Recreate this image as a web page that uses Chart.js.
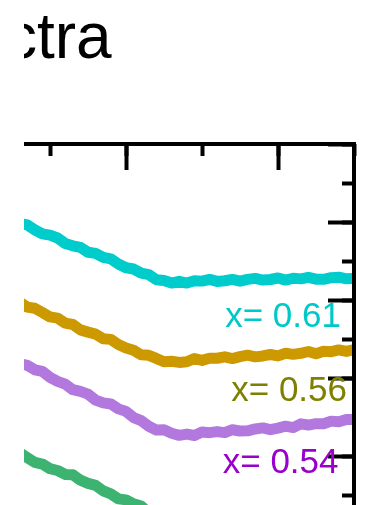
<!DOCTYPE html>
<html>
<head>
<meta charset="utf-8">
<title>Spectra</title>
<script src="https://cdn.jsdelivr.net/npm/chart.js@4.4.1/dist/chart.umd.min.js"></script>
<style>
  html, body { margin: 0; padding: 0; background: #fff; overflow: hidden; }
  /* the reference only shows the part of the figure right of x=24 */
  #clip { position: absolute; left: 24px; top: 0; width: 342px; height: 505px; overflow: hidden; }
  #box { position: absolute; left: -133px; top: 0; width: 473px; height: 544px; }
</style>
</head>
<body>
<div id="clip"><div id="box"><canvas id="spectraChart"></canvas></div></div>
<script>
// --- Data ---
const energy = [430, 435, 440, 445, 450, 455, 460, 465, 470, 475, 480, 485, 490, 495, 500,
  505, 510, 515, 520, 525, 530, 535, 540, 545, 550, 555, 560, 565, 570, 575,
  580, 585, 590, 595, 600, 605, 610, 615, 620, 625, 630, 635, 640, 645, 650];

const spectrum061 = [3.482, 3.464, 3.400, 3.347, 3.331, 3.295, 3.224, 3.195, 3.174, 3.112,
  3.097, 3.046, 3.027, 2.962, 2.913, 2.897, 2.845, 2.826, 2.760, 2.750,
  2.717, 2.740, 2.717, 2.746, 2.742, 2.764, 2.738, 2.747, 2.764, 2.741,
  2.764, 2.777, 2.756, 2.763, 2.782, 2.755, 2.779, 2.771, 2.790, 2.767,
  2.765, 2.786, 2.792, 2.772, 2.778];

const spectrum056 = [2.474, 2.408, 2.394, 2.340, 2.283, 2.268, 2.203, 2.186, 2.117, 2.088,
  2.062, 2.003, 1.995, 1.929, 1.885, 1.856, 1.797, 1.791, 1.751, 1.708,
  1.715, 1.700, 1.709, 1.750, 1.726, 1.754, 1.753, 1.772, 1.749, 1.773,
  1.792, 1.771, 1.783, 1.801, 1.783, 1.817, 1.803, 1.817, 1.840, 1.810,
  1.842, 1.837, 1.860, 1.841, 1.863];

const spectrum054 = [1.686, 1.663, 1.605, 1.585, 1.508, 1.456, 1.421, 1.350, 1.328, 1.294,
  1.217, 1.181, 1.167, 1.104, 1.072, 0.992, 0.953, 0.881, 0.832, 0.836,
  0.792, 0.765, 0.781, 0.763, 0.808, 0.799, 0.813, 0.800, 0.837, 0.821,
  0.823, 0.847, 0.860, 0.837, 0.858, 0.882, 0.864, 0.912, 0.897, 0.915,
  0.913, 0.947, 0.938, 0.967, 0.968];

const spectrumLow = [0.542, 0.479, 0.419, 0.397, 0.337, 0.314, 0.264, 0.260, 0.190, 0.149,
  0.124, 0.053, 0.014, -0.050, -0.062, -0.113, -0.141, -0.231, -0.276, -0.303,
  -0.362, -0.362, -0.382, -0.353, -0.360, -0.360, -0.336, -0.358, -0.331, -0.318,
  -0.336, -0.321, -0.295, -0.317, -0.315, -0.287, -0.295, -0.269, -0.297, -0.269,
  -0.267, -0.271, -0.244, -0.255, -0.237];

const compositions = ['x= 0.61', 'x= 0.56', 'x= 0.54'];
const labelEnergy = [641.4, 645.4, 639.8];
const labelLevel = [2.150, 1.209, 0.282];

const X_MIN = 400, X_MAX = 650;
const Y_MIN = -0.5, Y_MAX = 4.5;

const toPoints = (series) => energy.map((x, i) => ({ x: x, y: series[i] }));

function lineSet(series, color) {
    return {
        data: toPoints(series),
        borderColor: color,
        borderWidth: 11,
        pointRadius: 0,
        tension: 0,
        borderJoinStyle: 'round',
        borderCapStyle: 'round',
        fill: false,
        clip: { left: 0, top: 0, right: -2, bottom: 0 }
    };
}

// Inward pointing tick marks: axes pinned to the top / right edge of the plot
function tickAxis(axis, pinTo, min, max, step, length, withBorder) {
    return {
        type: 'linear',
        axis: axis,
        position: pinTo,
        min: min,
        max: max,
        ticks: { display: false, stepSize: step, includeBounds: false },
        grid: { drawOnChartArea: false, drawTicks: true, tickLength: length, tickWidth: 4, tickColor: '#000' },
        border: { display: withBorder, width: 4, color: '#000' }
    };
}

// Composition labels next to each curve
const compositionLabels = {
    id: 'compositionLabels',
    afterDatasetsDraw(chart) {
        const { ctx, scales: { x, y } } = chart;
        const colors = ['#00c8c8', '#808000', '#9900cc'];
        ctx.save();
        ctx.font = '35px "Liberation Sans", Arial, sans-serif';
        ctx.textAlign = 'right';
        ctx.textBaseline = 'alphabetic';
        compositions.forEach((text, i) => {
            ctx.fillStyle = colors[i];
            ctx.fillText(text, x.getPixelForValue(labelEnergy[i]), y.getPixelForValue(labelLevel[i]));
        });
        ctx.restore();
    }
};

const ctx = document.getElementById('spectraChart').getContext('2d');

const spectraChart = new Chart(ctx, {
    type: 'line',
    data: {
        datasets: [
            lineSet(spectrum061, '#00cccc'),
            lineSet(spectrum056, '#cc9900'),
            lineSet(spectrum054, '#b278de'),
            lineSet(spectrumLow, '#3cb371')
        ]
    },
    options: {
        responsive: true,
        maintainAspectRatio: false,
        animation: false,
        devicePixelRatio: 1,
        layout: { padding: { left: 0, top: 0, right: 10, bottom: 10 } },
        plugins: {
            legend: { display: false },
            tooltip: { enabled: false },
            title: {
                display: true,
                text: 'Spectra',
                align: 'start',
                color: '#000',
                font: { family: '"Liberation Sans", Arial, sans-serif', size: 64, weight: 'normal', lineHeight: 1 },
                padding: { top: 8, bottom: 72 }
            }
        },
        scales: {
            x: { type: 'linear', min: X_MIN, max: X_MAX, display: false },
            y: {
                type: 'linear',
                min: Y_MIN,
                max: Y_MAX,
                position: 'left',
                ticks: { display: false },
                grid: { display: false },
                border: { display: false },
                afterFit: (scale) => { scale.width = 83; }
            },
            xTopMajor: tickAxis('x', { y: Y_MAX }, X_MIN, X_MAX, 100, 24, true),
            xTopMinor: tickAxis('x', { y: Y_MAX }, X_MIN, X_MAX, 50, 12, false),
            yRightMajor: tickAxis('y', { x: X_MAX }, Y_MIN, Y_MAX, 1, 24, true),
            yRightMinor: tickAxis('y', { x: X_MAX }, Y_MIN, Y_MAX, 0.5, 12, false)
        }
    },
    plugins: [compositionLabels]
});
</script>
</body>
</html>
